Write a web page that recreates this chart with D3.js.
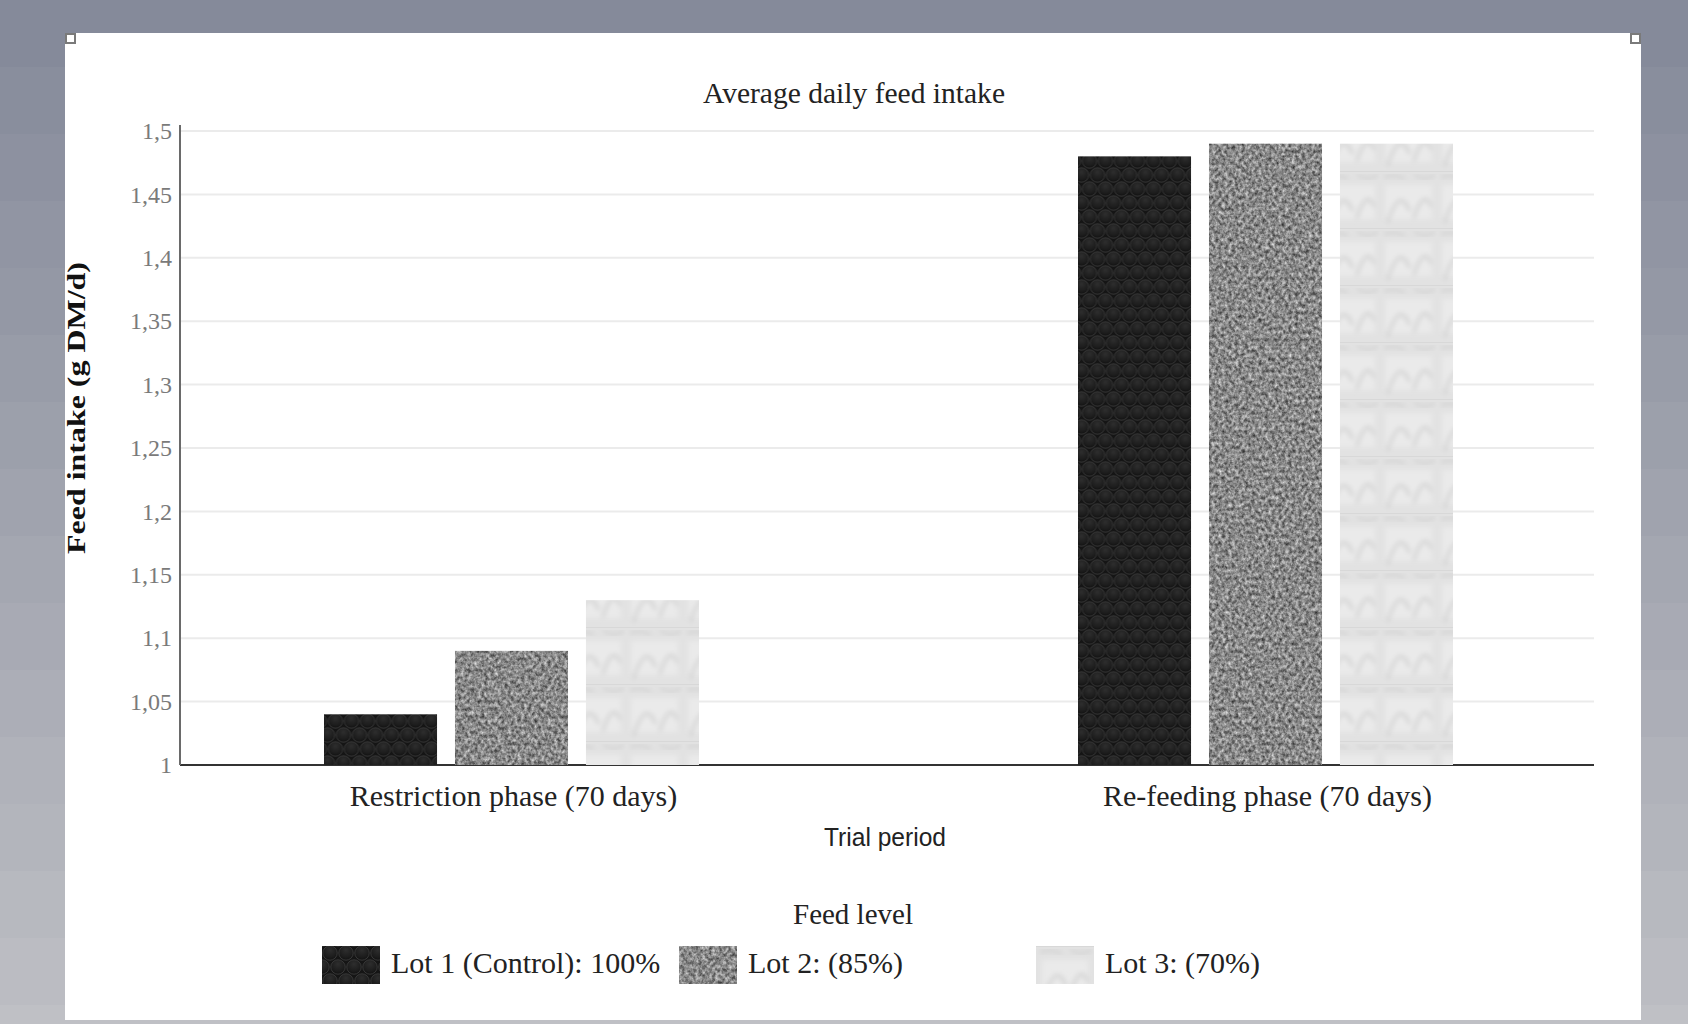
<!DOCTYPE html>
<html>
<head>
<meta charset="utf-8">
<script src="https://cdn.jsdelivr.net/npm/d3@7"></script>
<style>
  html, body { margin: 0; padding: 0; background: #fff; }
  svg { display: block; }
</style>
</head>
<body>
<svg id="chart" width="1688" height="1024"></svg>
<script>
// ---- data ----
const categories = ["Restriction phase (70 days)", "Re-feeding phase (70 days)"];
const series = ["Lot 1 (Control): 100%", "Lot 2: (85%)", "Lot 3: (70%)"];
const lot1 = [1.04, 1.48];
const lot2 = [1.09, 1.49];
const lot3 = [1.13, 1.49];
const yTicks = [1, 1.05, 1.1, 1.15, 1.2, 1.25, 1.3, 1.35, 1.4, 1.45, 1.5];

const values = [lot1, lot2, lot3];
const rows = categories.map((c, i) => ({
  category: c,
  bars: series.map((s, j) => ({ series: s, idx: j, value: values[j][i] }))
}));

const W = 1688, H = 1024;
const svg = d3.select("#chart");
const defs = svg.append("defs");

// ---- backdrop: banded grey gradient ----
const bandCount = 16;
const bandH = 67;
const bandColor = d3.interpolateRgb("#858a9a", "#bfc0c5");
svg.append("g").selectAll("rect")
  .data(d3.range(bandCount))
  .join("rect")
  .attr("x", 0).attr("width", W)
  .attr("y", d => d * bandH).attr("height", bandH + 1)
  .attr("fill", d => bandColor(d / (bandCount - 1)));

// white sheet
svg.append("rect").attr("x", 65).attr("y", 33).attr("width", 1576).attr("height", 987).attr("fill", "#ffffff");
// corner handles
[[65, 33], [1630, 33]].forEach(([hx, hy]) => {
  svg.append("rect").attr("x", hx + 1).attr("y", hy + 1).attr("width", 9).attr("height", 9)
    .attr("fill", "#fff").attr("stroke", "#7a7a7a").attr("stroke-width", 2);
});

// ---- fill textures ----
// Lot 1: dark honeycomb of domes
const p1 = defs.append("pattern").attr("id", "tex1").attr("patternUnits", "userSpaceOnUse")
  .attr("width", 16).attr("height", 28);
const g1 = defs.append("radialGradient").attr("id", "dome").attr("cx", "50%").attr("cy", "30%").attr("r", "70%");
g1.append("stop").attr("offset", "0%").attr("stop-color", "#2e2e2e");
g1.append("stop").attr("offset", "70%").attr("stop-color", "#1c1c1c");
g1.append("stop").attr("offset", "100%").attr("stop-color", "#111");
p1.append("rect").attr("width", 16).attr("height", 28).attr("fill", "#151515");
[[8, 7], [0, 21], [16, 21], [8, 35], [0, -7], [16, -7]].forEach(([cx, cy]) => {
  p1.append("circle").attr("cx", cx).attr("cy", cy).attr("r", 7.2)
    .attr("fill", "url(#dome)").attr("stroke", "#363636").attr("stroke-width", 1);
});

// Lot 2: grey knitted noise
const f2 = defs.append("filter").attr("id", "knit").attr("x", 0).attr("y", 0).attr("width", 1).attr("height", 1)
  .attr("color-interpolation-filters", "sRGB");
f2.append("feTurbulence").attr("type", "fractalNoise").attr("baseFrequency", "0.3 0.26")
  .attr("numOctaves", 3).attr("seed", 7).attr("result", "n");
f2.append("feColorMatrix").attr("in", "n").attr("type", "matrix")
  .attr("values", "0.85 0 0 0 0.11  0.85 0 0 0 0.11  0.85 0 0 0 0.11  0 0 0 0 1").attr("result", "g");
f2.append("feComposite").attr("in", "g").attr("in2", "SourceGraphic").attr("operator", "in");

// Lot 3: pale marbled tiles with soft arches
const p3 = defs.append("pattern").attr("id", "tex3").attr("patternUnits", "userSpaceOnUse")
  .attr("width", 57).attr("height", 57);
const blur3 = defs.append("filter").attr("id", "soft").attr("x", -0.2).attr("y", -0.2).attr("width", 1.4).attr("height", 1.4);
blur3.append("feGaussianBlur").attr("stdDeviation", 2.4);
p3.append("rect").attr("width", 57).attr("height", 57).attr("fill", "#e2e2e2");
p3.append("rect").attr("x", 6).attr("y", 14).attr("width", 46).attr("height", 34).attr("fill", "#eaeaea").attr("filter", "url(#soft)");
p3.append("path").attr("d", "M8,52 Q20,14 30,40 M34,48 Q44,16 52,36")
  .attr("fill", "none").attr("stroke", "#cdcdcd").attr("stroke-width", 2.5).attr("filter", "url(#soft)");
p3.append("path").attr("d", "M4,6 Q16,2 26,8 M34,4 Q46,10 56,4")
  .attr("fill", "none").attr("stroke", "#d2d2d2").attr("stroke-width", 3).attr("filter", "url(#soft)");
p3.append("rect").attr("x", 0).attr("y", 0).attr("width", 57).attr("height", 1).attr("fill", "#d8d8d8");

const fills = [
  { fill: "url(#tex1)", filter: null },
  { fill: "#888888", filter: "url(#knit)" },
  { fill: "url(#tex3)", filter: null }
];

// ---- scales ----
const y = d3.scaleLinear().domain([1, 1.5]).range([765, 131]);
const x0 = d3.scalePoint().domain(categories).range([511.5, 1265.5]);
const x1 = d3.scaleBand().domain(series).range([-187.5, 187.5]).paddingInner(0.137).paddingOuter(0);
const plotL = 180, plotR = 1594;

const locale = d3.formatLocale({ decimal: ",", thousands: ".", grouping: [3], currency: ["", ""] });
const fmt = locale.format(".2~f");

// gridlines
svg.append("g").selectAll("line")
  .data(yTicks.filter(t => t > 1))
  .join("line")
  .attr("x1", plotL).attr("x2", plotR)
  .attr("y1", d => y(d)).attr("y2", d => y(d))
  .attr("stroke", "#ebebeb").attr("stroke-width", 2);

// baseline
svg.append("line").attr("x1", plotL).attr("x2", plotR).attr("y1", y(1)).attr("y2", y(1))
  .attr("stroke", "#333").attr("stroke-width", 2);

// y axis
const yAxis = svg.append("g").attr("transform", `translate(${plotL},0)`)
  .call(d3.axisLeft(y).tickValues(yTicks).tickFormat(fmt).tickSize(0).tickPadding(8));
yAxis.select(".domain").attr("stroke", "#6a6a6a").attr("stroke-width", 2)
  .attr("d", `M0,${y(1.5) - 6}V${y(1)}`);
yAxis.selectAll("text").attr("font-family", "'Liberation Serif', 'Times New Roman', serif")
  .attr("font-size", 24).attr("fill", "#7a7a7a");

// bars
const groups = svg.append("g").selectAll("g")
  .data(rows).join("g")
  .attr("transform", d => `translate(${x0(d.category)},0)`);
groups.selectAll("rect")
  .data(d => d.bars).join("rect")
  .attr("x", d => x1(d.series))
  .attr("width", x1.bandwidth())
  .attr("y", d => y(d.value))
  .attr("height", d => y(1) - y(d.value))
  .attr("fill", d => fills[d.idx].fill)
  .attr("filter", d => fills[d.idx].filter);

// category labels
svg.append("g").selectAll("text")
  .data(categories).join("text")
  .attr("x", d => x0(d) + 2).attr("y", 806)
  .attr("text-anchor", "middle")
  .attr("font-family", "'Liberation Serif', 'Times New Roman', serif")
  .attr("font-size", 30).attr("fill", "#222")
  .text(d => d);

// titles
svg.append("text").attr("x", 854).attr("y", 103).attr("text-anchor", "middle")
  .attr("font-family", "'Liberation Serif', 'Times New Roman', serif")
  .attr("font-size", 30).attr("fill", "#222").attr("textLength", 302).attr("lengthAdjust", "spacingAndGlyphs")
  .text("Average daily feed intake");

svg.append("text").attr("x", 885).attr("y", 846).attr("text-anchor", "middle")
  .attr("font-family", "'Liberation Sans', Arial, sans-serif")
  .attr("font-size", 25).attr("fill", "#222").attr("textLength", 122).attr("lengthAdjust", "spacingAndGlyphs")
  .text("Trial period");

svg.append("text")
  .attr("transform", "translate(85,408) rotate(-90)")
  .attr("text-anchor", "middle")
  .attr("font-family", "'Liberation Serif', 'Times New Roman', serif")
  .attr("font-weight", "bold").attr("font-size", 26).attr("fill", "#111")
  .attr("textLength", 292).attr("lengthAdjust", "spacingAndGlyphs")
  .text("Feed intake (g DM/d)");

// legend
svg.append("text").attr("x", 853).attr("y", 924).attr("text-anchor", "middle")
  .attr("font-family", "'Liberation Serif', 'Times New Roman', serif")
  .attr("font-size", 29).attr("fill", "#222")
  .text("Feed level");

const legend = svg.append("g").selectAll("g")
  .data(series).join("g")
  .attr("transform", (d, i) => `translate(${322 + i * 357},946)`);
legend.append("rect")
  .attr("width", 58).attr("height", 38)
  .attr("fill", (d, i) => fills[i].fill)
  .attr("filter", (d, i) => fills[i].filter);
legend.append("text")
  .attr("x", 69).attr("y", 27)
  .attr("font-family", "'Liberation Serif', 'Times New Roman', serif")
  .attr("font-size", 30).attr("fill", "#222")
  .text(d => d);
</script>
</body>
</html>
